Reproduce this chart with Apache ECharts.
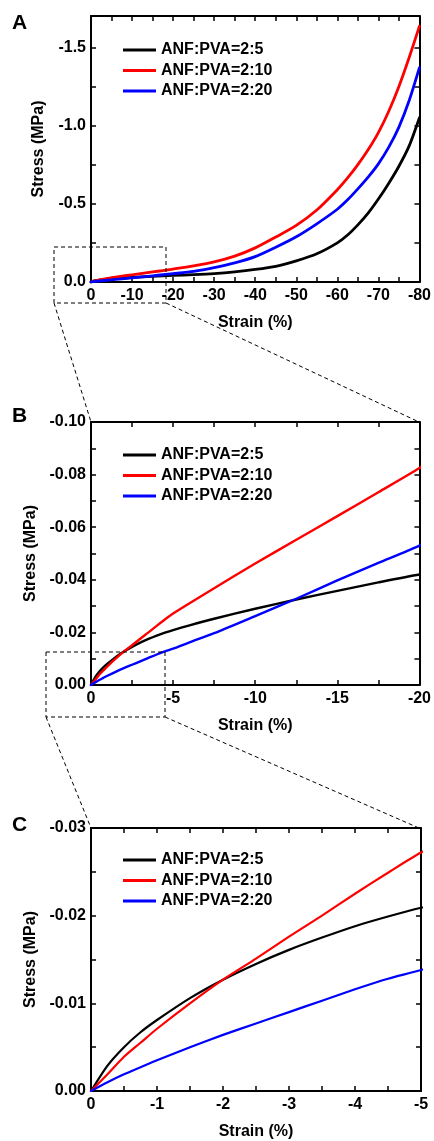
<!DOCTYPE html>
<html>
<head>
<meta charset="utf-8">
<script src="https://cdn.jsdelivr.net/npm/echarts@6/dist/echarts.min.js"></script>
<style>
  html, body { margin: 0; padding: 0; background: #fff; }
  #chart { width: 434px; height: 1141px; }
</style>
</head>
<body>
<div id="chart"></div>
<script>
// Compression curves: strain (%) and stress (MPa), both negative in compression.
const seriesNames = ['ANF:PVA=2:5', 'ANF:PVA=2:10', 'ANF:PVA=2:20'];

const strain = [0, -0.25, -0.5, -0.75, -1, -1.5, -2, -2.5, -3, -3.5, -4, -4.5, -5,
  -6, -7.5, -10, -12.5, -15, -17.5, -20, -25, -30, -35, -40, -45, -50, -55,
  -60, -62.5, -65, -67.5, -70, -72.5, -75, -77.5, -80];

const stress_2_5 = [0, -0.0029, -0.0050, -0.0067, -0.0081, -0.0106, -0.0127, -0.0145, -0.0161, -0.0175, -0.0188, -0.0199, -0.0209,
  -0.0227, -0.0252, -0.0290, -0.0325, -0.0358, -0.0390, -0.0420, -0.047, -0.054, -0.065, -0.080, -0.100, -0.135, -0.180,
  -0.250, -0.300, -0.365, -0.440, -0.530, -0.630, -0.740, -0.870, -1.050];

const stress_2_10 = [0, -0.0019, -0.0039, -0.0055, -0.0071, -0.0100, -0.0127, -0.0151, -0.0176, -0.0200, -0.0225, -0.0249, -0.0272,
  -0.0311, -0.0368, -0.0462, -0.0552, -0.0642, -0.0733, -0.0825, -0.103, -0.128, -0.165, -0.218, -0.287, -0.362, -0.460,
  -0.590, -0.665, -0.750, -0.845, -0.955, -1.090, -1.250, -1.435, -1.635];

const stress_2_20 = [0, -0.0010, -0.0019, -0.0027, -0.0035, -0.0050, -0.0064, -0.0077, -0.0090, -0.0103, -0.0116, -0.0128, -0.0138,
  -0.0162, -0.0197, -0.0262, -0.0328, -0.0398, -0.0464, -0.0530, -0.068, -0.092, -0.122, -0.162, -0.222, -0.289, -0.372,
  -0.465, -0.525, -0.595, -0.670, -0.755, -0.860, -0.990, -1.160, -1.370];

// Axis ranges, tick positions and labelled values for the three panels
const xRangeA = [-80, 0], yRangeA = [-1.7, 0];
const xRangeB = [-20, 0], yRangeB = [-0.1, 0];
const xRangeC = [-5, 0],  yRangeC = [-0.03, 0];

const xTicksA = [0, -5, -10, -15, -20, -25, -30, -35, -40, -45, -50, -55, -60, -65, -70, -75, -80];
const xLabelsA = [0, -10, -20, -30, -40, -50, -60, -70, -80];
const yTicksA = [0, -0.25, -0.5, -0.75, -1.0, -1.25, -1.5];
const yLabelsA = [0, -0.5, -1.0, -1.5];

const xTicksB = [0, -2.5, -5, -7.5, -10, -12.5, -15, -17.5, -20];
const xLabelsB = [0, -5, -10, -15, -20];
const yTicksB = [0, -0.01, -0.02, -0.03, -0.04, -0.05, -0.06, -0.07, -0.08, -0.09, -0.1];
const yLabelsB = [0, -0.02, -0.04, -0.06, -0.08, -0.1];

const xTicksC = [0, -0.5, -1, -1.5, -2, -2.5, -3, -3.5, -4, -4.5, -5];
const xLabelsC = [0, -1, -2, -3, -4, -5];
const yTicksC = [0, -0.005, -0.01, -0.015, -0.02, -0.025, -0.03];
const yLabelsC = [0, -0.01, -0.02, -0.03];

const FONT = '"Liberation Sans", Arial, Helvetica, sans-serif';
const colors = ['#000000', '#ff0000', '#0000ff'];

const panels = [
  { letter: 'A', grid: { left: 91, top: 16, width: 330, height: 266 },
    xRange: xRangeA, yRange: yRangeA, xTicks: xTicksA, xLabels: xLabelsA, yTicks: yTicksA, yLabels: yLabelsA,
    xDec: 0, yDec: 1, lineWidth: 2.8, legendTop: 42, letterY: 23 },
  { letter: 'B', grid: { left: 91, top: 422, width: 330, height: 263 },
    xRange: xRangeB, yRange: yRangeB, xTicks: xTicksB, xLabels: xLabelsB, yTicks: yTicksB, yLabels: yLabelsB,
    xDec: 0, yDec: 2, lineWidth: 2.4, legendTop: 447, letterY: 416 },
  { letter: 'C', grid: { left: 91, top: 828, width: 330, height: 263 },
    xRange: xRangeC, yRange: yRangeC, xTicks: xTicksC, xLabels: xLabelsC, yTicks: yTicksC, yLabels: yLabelsC,
    xDec: 0, yDec: 2, lineWidth: 2.2, legendTop: 852, letterY: 825 }
];

function fmt(v, d) {
  const n = Math.abs(v) < 1e-9 ? 0 : v;
  return n.toFixed(d);
}

function makeAxis(p, gi, isX, primary) {
  const range = isX ? p.xRange : p.yRange;
  const ax = {
    type: 'value',
    gridIndex: gi,
    position: isX ? (primary ? 'bottom' : 'top') : (primary ? 'left' : 'right'),
    min: range[0],
    max: range[1],
    inverse: true,
    axisLine: { show: true, onZero: false, lineStyle: { color: '#000', width: 2 } },
    axisTick: { show: true, inside: true, length: 5, customValues: isX ? p.xTicks : p.yTicks,
      lineStyle: { color: '#000', width: 1.5 } },
    axisLabel: { show: false },
    splitLine: { show: false }
  };
  if (primary) {
    const dec = isX ? p.xDec : p.yDec;
    ax.axisLabel = {
      show: true,
      customValues: isX ? p.xLabels : p.yLabels,
      formatter: (v) => fmt(v, dec),
      margin: isX ? 6 : 5,
      color: '#000',
      fontSize: 16,
      fontWeight: 'bold',
      fontFamily: FONT
    };
    ax.name = isX ? 'Strain (%)' : 'Stress (MPa)';
    ax.nameLocation = 'middle';
    ax.nameGap = isX ? 33 : 44;
    ax.nameTextStyle = { color: '#000', fontSize: 16, fontWeight: 'bold', fontFamily: FONT };
  }
  return ax;
}

const stressSets = [stress_2_5, stress_2_10, stress_2_20];

const grids = [], xAxes = [], yAxes = [], series = [], legends = [];
panels.forEach((p, gi) => {
  grids.push(Object.assign({ containLabel: false, show: false }, p.grid));
  xAxes.push(makeAxis(p, gi, true, true));   // bottom axis with labels
  xAxes.push(makeAxis(p, gi, true, false));  // mirrored top axis
  yAxes.push(makeAxis(p, gi, false, true));  // left axis with labels
  yAxes.push(makeAxis(p, gi, false, false)); // mirrored right axis
  stressSets.forEach((ys, si) => {
    series.push({
      type: 'line',
      name: seriesNames[si],
      xAxisIndex: 2 * gi,
      yAxisIndex: 2 * gi,
      data: strain.map((s, k) => [s, ys[k]]),
      showSymbol: false,
      smooth: 0.25,
      clip: true,
      color: colors[si],
      lineStyle: { color: colors[si], width: p.lineWidth, join: 'round', cap: 'round' },
      emphasis: { disabled: true }
    });
  });
  legends.push({
    orient: 'vertical',
    left: 123,
    top: p.legendTop,
    padding: 0,
    itemWidth: 33,
    itemHeight: 3,
    itemGap: 4.5,
    icon: 'rect',
    selectedMode: false,
    data: seriesNames,
    textStyle: { color: '#000', fontSize: 16, fontWeight: 'bold', fontFamily: FONT, lineHeight: 16 }
  });
});

// Panel letters and the dashed zoom outlines linking each panel to the next
const dash = { stroke: '#000', lineWidth: 1, lineDash: [4, 3], fill: null };
const graphics = [];
panels.forEach((p) => {
  graphics.push({
    type: 'text',
    style: { text: p.letter, x: 12, y: p.letterY, fill: '#000',
      font: 'bold 21px ' + FONT, verticalAlign: 'middle' },
    z: 10
  });
});
const outlines = [
  { box: [54, 247, 166, 303], to: panels[1] },
  { box: [46, 652, 165, 717], to: panels[2] }
];
outlines.forEach((o) => {
  const [x1, y1, x2, y2] = o.box;
  const g = o.to.grid;
  graphics.push({ type: 'rect', shape: { x: x1, y: y1, width: x2 - x1, height: y2 - y1 }, style: dash, z: 10 });
  graphics.push({ type: 'line', shape: { x1: x1, y1: y2, x2: g.left, y2: g.top }, style: dash, z: 10 });
  graphics.push({ type: 'line', shape: { x1: x2, y1: y2, x2: g.left + g.width - 2, y2: g.top }, style: dash, z: 10 });
});

const chart = echarts.init(document.getElementById('chart'), null, { renderer: 'canvas' });
chart.setOption({
  animation: false,
  backgroundColor: '#ffffff',
  grid: grids,
  xAxis: xAxes,
  yAxis: yAxes,
  legend: legends,
  series: series,
  graphic: graphics
});
</script>
</body>
</html>
